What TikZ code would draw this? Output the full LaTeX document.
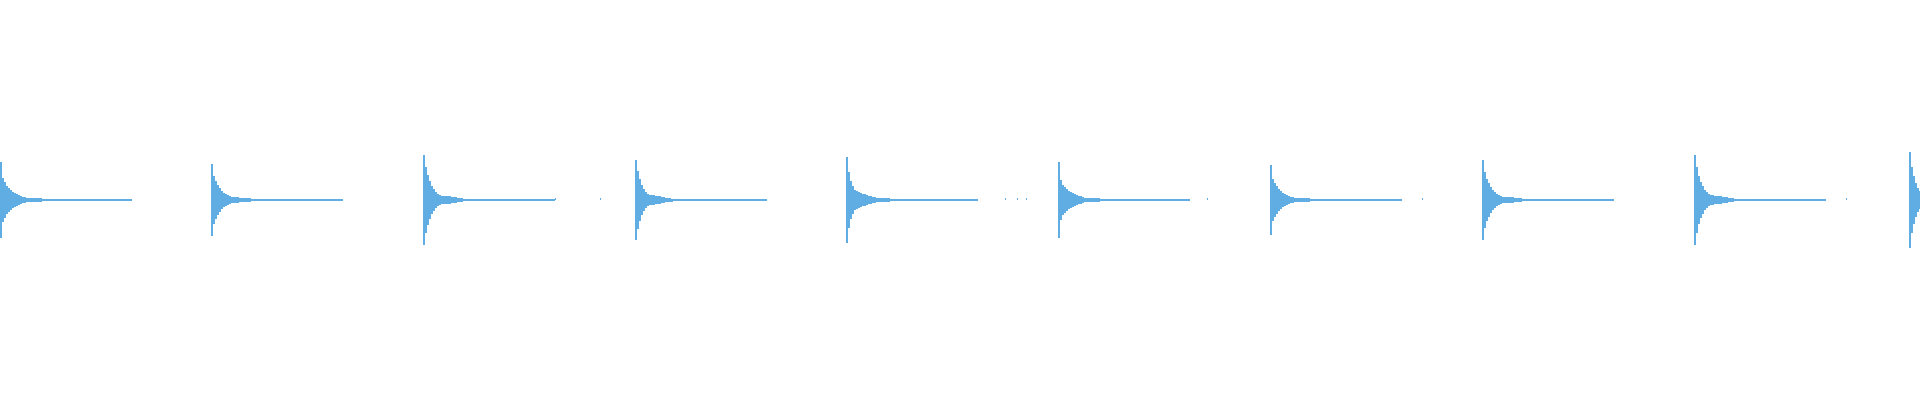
\documentclass[tikz,border=0pt]{standalone}
\usetikzlibrary{calc}
\definecolor{wave}{RGB}{95,173,226}
\tikzset{wavebar/.style={wave, line width=0.6pt}}
% one decaying burst: start x, amplitude, tail length (all in px)
\newcommand{\burst}[3]{%
  \foreach \k in {0,2,...,#3} {
    \pgfmathsetmacro{\h}{max(1,#2*(0.75*exp(-\k/5)+0.25*exp(-\k/22))*(\k==0 ? 1 : 0.7+0.3*abs(sin(\k*97+#1))))}
    \draw[wavebar] (#1+\k,200-\h) -- (#1+\k,200+\h);
  }}
\begin{document}
\begin{tikzpicture}[x=0.01cm, y=-0.01cm]
  \useasboundingbox (0,0) rectangle (1920,400);
  \foreach \xs/\amp in {1/38, 212/36, 424/45, 636/40, 847/43, 1059/38, 1271/35, 1483/40, 1695/45}
    \burst{\xs}{\amp}{130};
  \burst{1910}{48}{10}
  % scattered dots after the tails
  \foreach \xd in {555, 600, 1005, 1017, 1026, 1207, 1422, 1846} {
    \draw[wavebar] (\xd,199) -- (\xd+1,199);
  }
\end{tikzpicture}
\end{document}
